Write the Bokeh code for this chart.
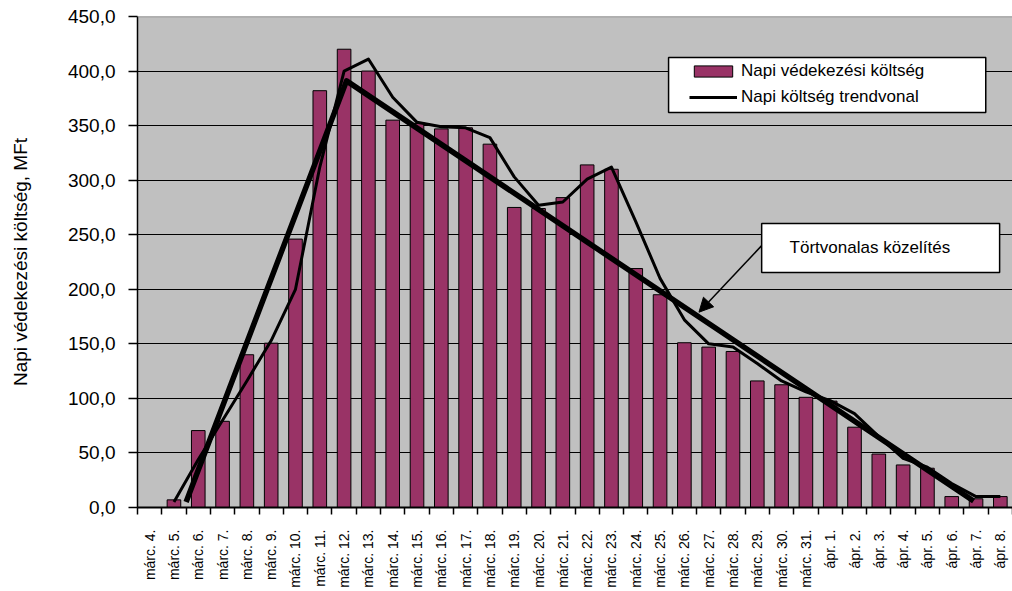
import numpy as np
from bokeh.plotting import figure
from bokeh.models import (Range1d, FixedTicker, BoxAnnotation, Label, Arrow,
                          NormalHead, Legend, LegendItem, Span)
from bokeh.embed import file_html
from bokeh.resources import INLINE

# ---------------- data ----------------
days = ["márc. 4.", "márc. 5.", "márc. 6.", "márc. 7.", "márc. 8.", "márc. 9.",
        "márc. 10.", "márc. 11.", "márc. 12.", "márc. 13.", "márc. 14.", "márc. 15.",
        "márc. 16.", "márc. 17.", "márc. 18.", "márc. 19.", "márc. 20.", "márc. 21.",
        "márc. 22.", "márc. 23.", "márc. 24.", "márc. 25.", "márc. 26.", "márc. 27.",
        "márc. 28.", "márc. 29.", "márc. 30.", "márc. 31.", "ápr. 1.", "ápr. 2.",
        "ápr. 3.", "ápr. 4.", "ápr. 5.", "ápr. 6.", "ápr. 7.", "ápr. 8."]

daily_cost = [0, 7, 70.5, 79, 140, 150.6, 246, 382, 420, 400,
              355, 352, 347, 348, 333, 275, 274, 284, 314, 310,
              219, 195, 151, 147, 143, 116, 112.5, 101,
              97.5, 73.6, 49, 39, 36, 10, 8, 10]

trend_cost = [None, 5, 44, 80, 116, 153, 200, 312, 400, 411,
              376, 353, 349, 348, 339, 303, 277, 280, 301, 312,
              262, 210, 172, 150, 147, 132, 116, 106,
              98, 86, 65, 45, 37, 22, 10, 10]

# broken-line approximation (category position, value)
approx_pos = [1.5, 8.1, 33.9]
approx_cost = [5, 391, 6]

y_ticks = [0, 50, 100, 150, 200, 250, 300, 350, 400, 450]
y_tick_labels = ["0,0", "50,0", "100,0", "150,0", "200,0", "250,0",
                 "300,0", "350,0", "400,0", "450,0"]

series_labels = ["Napi védekezési költség", "Napi költség trendvonal"]
y_title = "Napi védekezési költség, MFt"
approx_title = "Törtvonalas közelítés"

# ---------------- figure ----------------
FONT = "Liberation Sans"
idx = list(range(len(days)))
trend_y = [np.nan if v is None else v for v in trend_cost]

p = figure(width=1012, height=591,
           x_range=Range1d(-0.5, len(days) - 0.5), y_range=Range1d(0, 450),
           output_backend="svg", toolbar_location=None,
           min_border_left=137, min_border_right=0,
           min_border_top=16, min_border_bottom=84)
p.background_fill_color = "#C0C0C0"
p.border_fill_color = "white"
p.outline_line_color = None

# x axis: labels at centres, ticks at category boundaries
xa = p.xaxis[0]
xa.ticker = FixedTicker(ticks=idx, minor_ticks=[i - 0.5 for i in range(len(days) + 1)])
xa.major_label_overrides = {i: d for i, d in enumerate(days)}
xa.major_label_orientation = np.pi / 2
xa.major_tick_out = 0
xa.major_tick_in = 0
xa.minor_tick_out = 7
xa.minor_tick_in = 0
xa.minor_tick_line_color = "black"
xa.minor_tick_line_width = 1.5
xa.axis_line_color = "black"
xa.axis_line_width = 2
xa.major_label_standoff = 15
xa.major_label_text_font = FONT
xa.major_label_text_font_size = "14px"
xa.major_label_text_color = "black"

ya = p.yaxis[0]
ya.ticker = FixedTicker(ticks=y_ticks)
ya.major_label_overrides = dict(zip(y_ticks, y_tick_labels))
ya.minor_tick_line_color = None
ya.major_tick_out = 9
ya.major_tick_in = 0
ya.major_tick_line_color = "black"
ya.major_tick_line_width = 1.5
ya.axis_line_color = "black"
ya.axis_line_width = 1.5
ya.major_label_standoff = 13
ya.major_label_text_font = FONT
ya.major_label_text_font_size = "19px"
ya.major_label_text_color = "black"
ya.axis_label = y_title
ya.axis_label_standoff = 34
ya.axis_label_text_font = FONT
ya.axis_label_text_font_size = "19px"
ya.axis_label_text_font_style = "normal"
ya.axis_label_text_color = "black"

p.xgrid.visible = False
p.ygrid.ticker = FixedTicker(ticks=y_ticks[1:-1])
p.ygrid.grid_line_color = "black"
p.ygrid.grid_line_width = 1.2

p.add_layout(Span(location=450, dimension="width", line_color="#808080", line_width=1.5))

# ---------------- glyphs ----------------
bars = p.vbar(x=idx, top=daily_cost, width=0.56, fill_color="#993366",
              line_color="black", line_width=1)
trend = p.line(x=idx, y=trend_y, line_color="black", line_width=3, line_join="round")
approx = p.line(x=approx_pos, y=approx_cost, line_color="black", line_width=5.5,
                line_join="round")

# ---------------- legend ----------------
legend_box = BoxAnnotation(left=21.35, right=34.4, bottom=362, top=412.5,
                           fill_color="white", fill_alpha=1,
                           line_color="black", line_width=1.5, line_alpha=1)
p.add_layout(legend_box)

legend = Legend(items=[LegendItem(label=series_labels[0], renderers=[bars]),
                       LegendItem(label=series_labels[1], renderers=[trend])],
                location=(552, 400), padding=0, spacing=6, margin=0,
                glyph_width=48, glyph_height=14, label_height=20, label_standoff=4,
                border_line_color=None, background_fill_alpha=0,
                label_text_font=FONT, label_text_font_size="17px",
                label_text_color="black")
p.add_layout(legend)

# ---------------- callout ----------------
p.add_layout(Arrow(end=NormalHead(size=14, fill_color="black", line_color="black"),
                   x_start=25.18, y_start=240, x_end=22.6, y_end=179,
                   line_color="black", line_width=1.5))
callout_box = BoxAnnotation(left=25.18, right=34.97, bottom=215.4, top=260.3,
                            fill_color="white", fill_alpha=1,
                            line_color="black", line_width=1.5, line_alpha=1)
p.add_layout(callout_box)
p.add_layout(Label(x=26.33, y=238.3, text=approx_title, text_baseline="middle",
                   text_align="left", text_font=FONT, text_font_size="17px",
                   text_color="black"))

open("out.html", "w", encoding="utf-8").write(file_html(p, INLINE))
